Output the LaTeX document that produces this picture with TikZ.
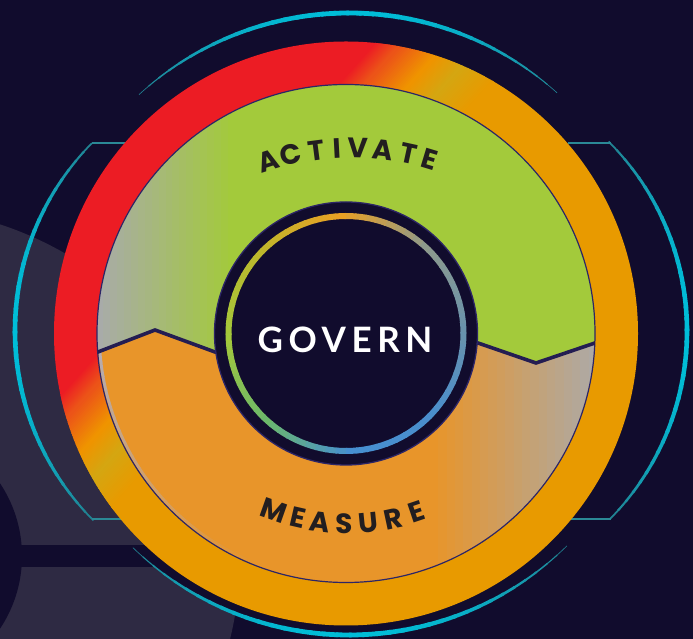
\documentclass[tikz,border=0pt]{standalone}
\usepackage{fontspec}
\newfontfamily\govfont{Lato}
\newfontfamily\lblfont{Poppins}
\usetikzlibrary{calc}
\definecolor{cBg}{HTML}{110C2D}
\definecolor{cLight}{HTML}{2E2A43}
\definecolor{cCyan}{HTML}{00BDD8}
\definecolor{cTeal}{HTML}{23808F}
\definecolor{cTick}{HTML}{2B8996}
\definecolor{cRed}{HTML}{EC1C24}
\definecolor{cOrRed}{HTML}{EC5418}
\definecolor{cOrng}{HTML}{EF9400}
\definecolor{cOchre}{HTML}{D5A611}
\definecolor{cRingOr}{HTML}{E89A00}
\definecolor{cGreen}{HTML}{A3CA3B}
\definecolor{cGreenGrey}{HTML}{A8ABA9}
\definecolor{cOrFill}{HTML}{E8952A}
\definecolor{cOrGrey}{HTML}{AEA9A4}
\definecolor{cEdgeGrey}{HTML}{B3ADB8}
\definecolor{cNavy}{HTML}{241D52}
\definecolor{cNavyLine}{HTML}{2C2566}
\definecolor{cText}{HTML}{221E20}
\definecolor{k0}{HTML}{6A92AC}
\definecolor{k1}{HTML}{8E9A8C}
\definecolor{k2}{HTML}{E9A024}
\definecolor{k3}{HTML}{BDB82C}
\definecolor{k4}{HTML}{A3C83C}
\definecolor{k5}{HTML}{6CB86A}
\definecolor{k6}{HTML}{4790D2}
\definecolor{k7}{HTML}{4A8ECC}
\definecolor{k8}{HTML}{6A92AC}
% vertical strips forming a horizontal gradient
\newcommand\hstrips[6]{%
  \foreach \j in {0,...,19}{%
    \pgfmathsetmacro\pp{100-100*\j/19}%
    \pgfmathsetmacro\ua{#1+(#2-#1)*\j/20}%
    \pgfmathsetmacro\ub{#1+(#2-#1)*(\j+1)/20+0.8}%
    \fill[#3!\pp!#4] (\ua,#5) rectangle (\ub,#6);%
  }}
% tapered cyan arc
\newcommand\taperarc[7]{%
  \begin{scope}[shift={(#1,#2)}]
  \foreach \j in {0,...,35}{%
    \pgfmathsetmacro\aa{#4+(#5-#4)*\j/36}%
    \pgfmathsetmacro\sv{abs((\j+0.5)/36-0.5)*2}%
    \pgfmathsetmacro\ww{#7+(#6-#7)*(1-\sv*\sv)}%
    \pgfmathsetmacro\pp{100*(1-\sv*\sv)}%
    \draw[line width=\ww pt, cCyan!\pp!cTeal] (\aa:#3) arc[start angle=\aa, delta angle={(#5-#4)/36*1.2}, radius=#3];%
  }
  \end{scope}}
\tikzset{
  lbl/.style={text=cText, inner sep=0pt, font=\lblfont\bfseries\fontsize{28}{28}\selectfont},
  govtext/.style={text=white, inner sep=0pt, font=\govfont\bfseries\fontsize{35}{35}\selectfont\addfontfeature{LetterSpace=16}},
  tick/.style={cTick, line width=1.6pt}
}
\begin{document}
\begin{tikzpicture}[x=1pt,y=1pt]
\useasboundingbox (0,0) rectangle (693,639);
\clip (0,0) rectangle (693,639);
\fill[cBg] (0,0) rectangle (693,639);
% background shapes bottom-left
\coordinate (B) at (-109,83);
\fill[cLight] (B) circle[radius=349];
\fill[cBg] (B) circle[radius=131];
\fill[cBg] (0,72) rectangle (170,94);
% dark band behind bottom arc
\begin{scope}[shift={(349,315)}]
  \draw[cBg, line width=16pt] (228:303) arc[start angle=228, end angle=312, radius=303];
\end{scope}
% cyan arcs
\taperarc{283}{308}{268}{135.5}{224.5}{4.6}{1.6}
\taperarc{419}{308}{268}{-44.5}{44.5}{4.6}{1.6}
\taperarc{349}{315}{311}{48}{132}{4.8}{0.4}
\taperarc{349}{315}{311}{226}{314}{4.8}{0.4}
% ticks
\coordinate (lt1) at (91.5,496); \coordinate (lt2) at (137,496);
\coordinate (lb1) at (91.5,120); \coordinate (lb2) at (137,120);
\coordinate (rt1) at (568,496); \coordinate (rt2) at (610.5,496);
\coordinate (rb1) at (568,120); \coordinate (rb2) at (610.5,120);
\draw[tick] (lt1) -- (lt2);
\draw[tick] (lb1) -- (lb2);
\draw[tick] (rt1) -- (rt2);
\draw[tick] (rb1) -- (rb2);
% main ring
\coordinate (C) at (346,305.5);
\begin{scope}
  \clip (C) circle[radius=292];
  \begin{scope}[shift={(346,305.5)}, rotate=-41.76]
    \fill[cRed] (-300,-300) rectangle (-171,300);
    \hstrips{-172}{-152}{cRed}{cOrRed}{-300}{300}
    \hstrips{-152}{-118}{cOrRed}{cOrng}{-300}{300}
    \hstrips{-118}{-92}{cOrng}{cOchre}{-300}{300}
    \hstrips{-92}{-58}{cOchre}{cRingOr}{-300}{300}
    \fill[cRingOr] (-59,-300) rectangle (300,300);
  \end{scope}
\end{scope}
% inner disk: green top
\begin{scope}
  \clip (C) circle[radius=249];
  \clip (80,280.1)--(155,309)--(215,287)--(478,296)--(536,276)--(612,301.8)--(612,600)--(80,600)--cycle;
  \fill[cGreen] (80,0) rectangle (620,639);
  \fill[cGreenGrey] (80,0) rectangle (97,639);
  \hstrips{96}{235}{cGreenGrey}{cGreen}{0}{639}
\end{scope}
% inner disk: orange bottom
\begin{scope}
  \clip (C) circle[radius=249];
  \clip (80,280.1)--(155,309)--(215,287)--(478,296)--(536,276)--(612,301.8)--(612,0)--(80,0)--cycle;
  \fill[cOrFill] (80,0) rectangle (620,639);
  \hstrips{430}{597}{cOrFill}{cOrGrey}{0}{639}
  \fill[cOrGrey] (596,0) rectangle (620,639);
  \begin{scope}[shift={(346,305.5)}]
    \foreach \j in {0,...,19}{%
      \pgfmathsetmacro\aa{180+\j*3.3}%
      \pgfmathsetmacro\pp{100-5*\j}%
      \draw[line width=3pt, cEdgeGrey!\pp!cOrFill] (\aa:246.8) arc[start angle=\aa, delta angle=3.6, radius=246.8];
    }
  \end{scope}
\end{scope}
\draw[cNavyLine, line width=1.2pt] (C) circle[radius=249];
% divider
\begin{scope}
  \clip (C) circle[radius=249];
  \draw[cNavy, line width=3.6pt, line join=miter] (80,280.1)--(155,309)--(215,287)--(260,288.5);
  \draw[cNavy, line width=3.6pt, line join=miter] (440,294.7)--(478,296)--(536,276)--(612,301.8);
\end{scope}
% central circle
\fill[cBg] (C) circle[radius=131.5];
\draw[cNavyLine, line width=1.3pt] (C) circle[radius=131.5];
\begin{scope}[shift={(346,305.5)}]
  \foreach \i in {0,...,71}{%
    \pgfmathtruncatemacro\kk{floor(\i/9)}%
    \pgfmathtruncatemacro\kn{\kk+1}%
    \pgfmathsetmacro\pp{100-100*mod(\i,9)/9}%
    \colorlet{segc}{k\kk!\pp!k\kn}%
    \draw[segc, line width=6pt] ({\i*5}:117.5) arc[start angle={\i*5}, delta angle=5.6, radius=117.5];
  }
\end{scope}
\node[govtext] (govern) at (345,299.5) {GOVERN};
% ACTIVATE
\begin{scope}[shift={(351,219)}]
  \node[lbl, rotate=17.7] (a1) at (107.7:272) {A};
  \node[lbl, rotate=12.9] (a2) at (102.9:272) {C};
  \node[lbl, rotate=7.4]  (a3) at (97.4:272) {T};
  \node[lbl, rotate=3]    (a4) at (93:272) {I};
  \node[lbl, rotate=-1.5] (a5) at (88.5:272) {V};
  \node[lbl, rotate=-6.8] (a6) at (83.2:272) {A};
  \node[lbl, rotate=-12.2] (a7) at (77.8:272) {T};
  \node[lbl, rotate=-16.9] (a8) at (73.1:272) {E};
\end{scope}
% MEASURE
\begin{scope}[shift={(347,334.5)}]
  \node[lbl, rotate=-19.5] (m1) at (250.5:219) {M};
  \node[lbl, rotate=-12.9] (m2) at (257.1:219) {E};
  \node[lbl, rotate=-7.1]  (m3) at (262.9:219) {A};
  \node[lbl, rotate=-0.7]  (m4) at (269.3:219) {S};
  \node[lbl, rotate=5.7]   (m5) at (275.7:219) {U};
  \node[lbl, rotate=12.1]  (m6) at (282.1:219) {R};
  \node[lbl, rotate=18.6]  (m7) at (288.6:219) {E};
\end{scope}
\end{tikzpicture}
\end{document}
